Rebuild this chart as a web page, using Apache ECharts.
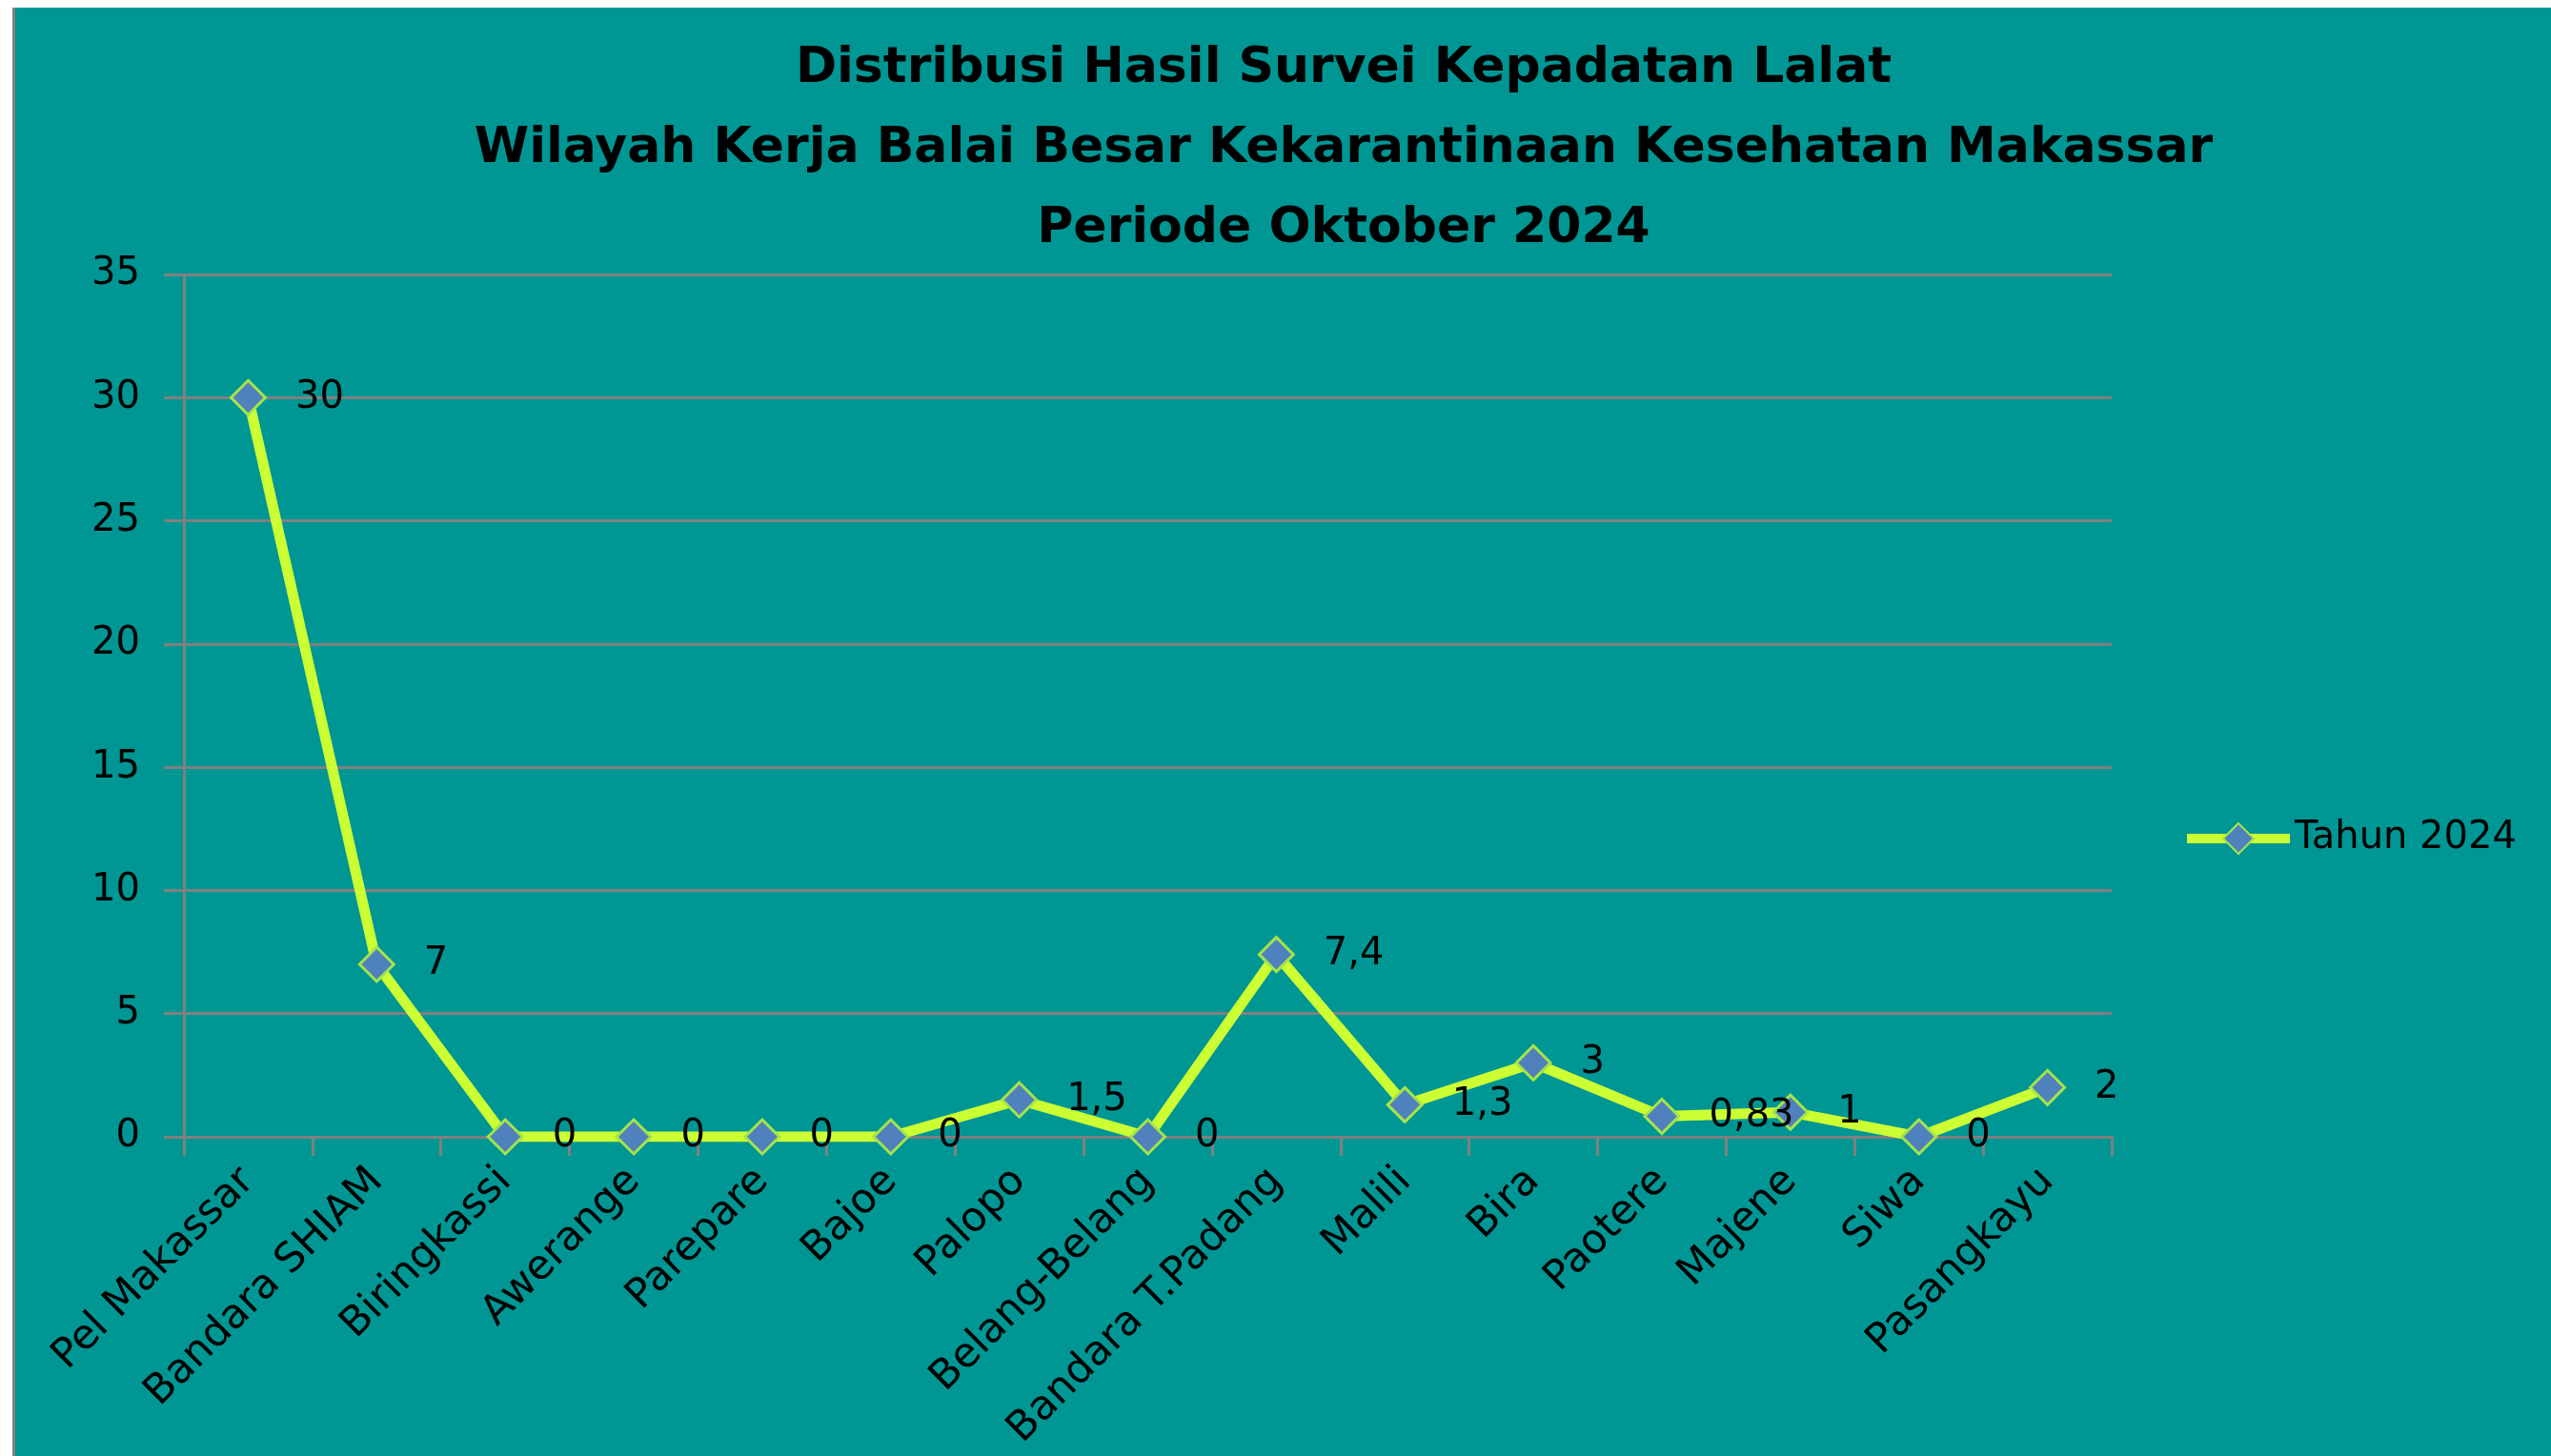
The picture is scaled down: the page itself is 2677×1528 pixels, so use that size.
<!DOCTYPE html>
<html>
<head>
<meta charset="utf-8">
<title>Distribusi Hasil Survei Kepadatan Lalat</title>
<script src="https://cdn.jsdelivr.net/npm/echarts@6/dist/echarts.min.js"></script>
<style>
    html, body {
        margin: 0;
        padding: 0;
        background: #ffffff;
    }
    #panel {
        position: absolute;
        left: 13px;
        top: 8px;
        width: 2664px;
        height: 1520px;
        background: #009694;
        border-left: 3px solid #808080;
        box-sizing: border-box;
    }
    #main {
        position: absolute;
        left: 0;
        top: 0;
        width: 2677px;
        height: 1528px;
    }
</style>
</head>
<body>
<div id="panel"></div>
<div id="main"></div>
<script>
// lokasi survei
var categories = ['Pel Makassar', 'Bandara SHIAM', 'Biringkassi', 'Awerange', 'Parepare', 'Bajoe', 'Palopo',
    'Belang-Belang', 'Bandara T.Padang', 'Malili', 'Bira', 'Paotere', 'Majene', 'Siwa', 'Pasangkayu'];
// kepadatan lalat
var values2024 = [30, 7, 0, 0, 0, 0, 1.5, 0, 7.4, 1.3, 3, 0.83, 1, 0, 2];
var seriesName = 'Tahun 2024';
var titleLines = ['Distribusi Hasil Survei Kepadatan Lalat',
    'Wilayah Kerja Balai Besar Kekarantinaan Kesehatan Makassar',
    'Periode Oktober 2024'];

var dom = document.getElementById('main');
var myChart = echarts.init(dom);
var font = 'DejaVu Sans';

var option = {
    animation: false,
    title: {
        text: titleLines.join('\n'),
        left: 1410,
        top: 30,
        padding: 0,
        textAlign: 'center',
        textStyle: {
            fontFamily: font,
            fontWeight: 'bold',
            fontSize: 52,
            lineHeight: 84,
            color: '#000000'
        }
    },
    legend: {
        left: 2290,
        top: 860,
        padding: 0,
        itemWidth: 108,
        itemHeight: 40,
        data: [seriesName],
        lineStyle: {
            color: '#CCFF33',
            width: 10
        },
        textStyle: {
            fontFamily: font,
            fontSize: 40,
            color: '#000000'
        }
    },
    grid: {
        left: 193,
        right: 461,
        top: 288,
        bottom: 335,
        containLabel: false
    },
    xAxis: {
        type: 'category',
        data: categories,
        boundaryGap: true,
        axisLine: {
            lineStyle: { color: '#808080', width: 3 }
        },
        axisTick: {
            show: true,
            length: 20,
            lineStyle: { color: '#808080', width: 3 }
        },
        axisLabel: {
            interval: 0,
            rotate: 45,
            margin: 40,
            fontFamily: font,
            fontSize: 43,
            color: '#000000'
        }
    },
    yAxis: {
        type: 'value',
        min: 0,
        max: 35,
        interval: 5,
        axisLine: {
            show: true,
            lineStyle: { color: '#808080', width: 3 }
        },
        axisTick: {
            show: true,
            length: 21,
            lineStyle: { color: '#808080', width: 3 }
        },
        splitLine: {
            lineStyle: { color: '#808080', width: 3 }
        },
        axisLabel: {
            margin: 46,
            fontFamily: font,
            fontSize: 40,
            color: '#000000'
        }
    },
    series: [{
        name: seriesName,
        type: 'line',
        data: values2024,
        symbol: 'diamond',
        symbolSize: 36,
        lineStyle: {
            color: '#CCFF33',
            width: 11
        },
        itemStyle: {
            color: '#4F81BD',
            borderColor: '#A6E34A',
            borderWidth: 3
        },
        label: {
            show: true,
            position: 'right',
            distance: 30,
            fontFamily: font,
            fontSize: 40,
            color: '#000000',
            formatter: function(p) {
                return String(p.value).replace('.', ',');
            }
        }
    }]
};

if (option && typeof option === "object") {
    myChart.setOption(option, true);
}
</script>
</body>
</html>
